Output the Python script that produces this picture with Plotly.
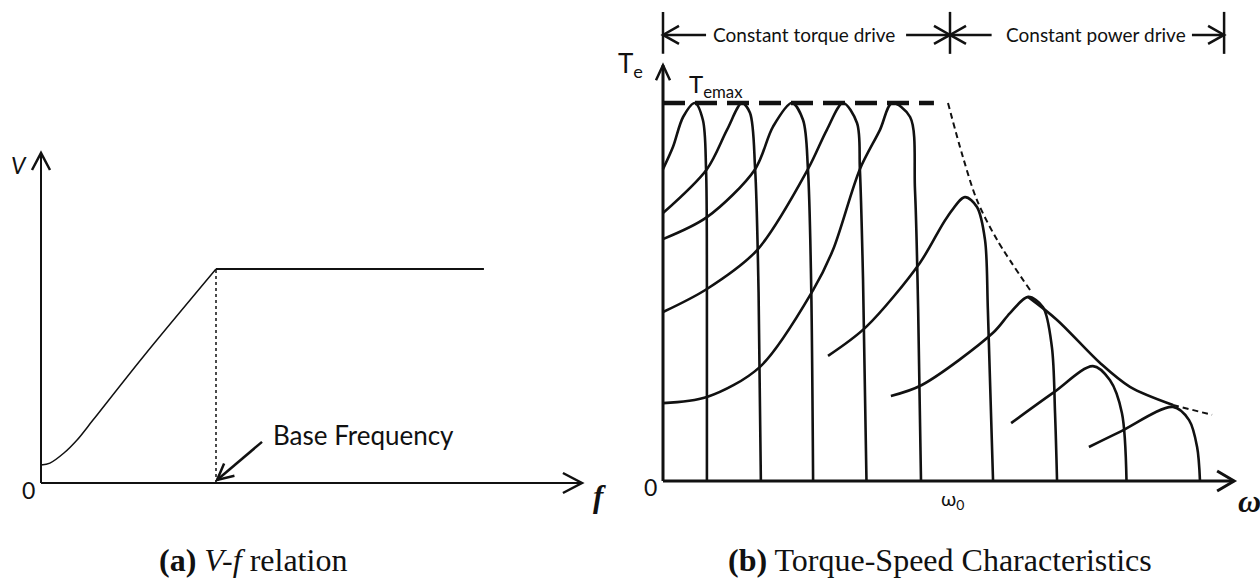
import math
import plotly.graph_objects as go

# ---------------- Panel (a): V-f relation (per-unit f and V) ----------------
vf_ramp_f = [0.0, 0.051, 0.131, 0.206, 0.297, 0.583, 1.0]
vf_ramp_v = [0.084, 0.093, 0.140, 0.201, 0.294, 0.589, 1.0]
vf_flat_f = [1.0, 2.531]
vf_flat_v = [1.0, 1.0]
base_freq = 1.0

# ---------------- Panel (b): torque-speed curves (w per-unit of w0, T per-unit of Temax) ----
c1_w = [0.0, 0.035, 0.070, 0.111, 0.139, 0.150, 0.153, 0.153]
c1_t = [0.825, 0.884, 0.963, 1.0, 0.955, 0.825, 0.5, 0.0]
c2_w = [0.0, 0.153, 0.223, 0.275, 0.303, 0.321, 0.333, 0.341]
c2_t = [0.709, 0.825, 0.929, 1.0, 0.974, 0.825, 0.5, 0.0]
c3_w = [0.0, 0.153, 0.321, 0.383, 0.449, 0.488, 0.505, 0.516, 0.523]
c3_t = [0.640, 0.698, 0.825, 0.937, 1.0, 0.955, 0.825, 0.532, 0.0]
c4_w = [0.0, 0.153, 0.328, 0.505, 0.571, 0.627, 0.676, 0.686, 0.697, 0.709]
c4_t = [0.447, 0.508, 0.611, 0.825, 0.929, 1.0, 0.947, 0.825, 0.532, 0.0]
c5_w = [0.0, 0.153, 0.338, 0.523, 0.592, 0.686, 0.756, 0.798, 0.861, 0.878, 0.889, 0.899]
c5_t = [0.206, 0.222, 0.302, 0.505, 0.611, 0.825, 0.929, 1.0, 0.963, 0.770, 0.455, 0.0]
c6_w = [0.575, 0.707, 0.895, 0.990, 1.052, 1.094, 1.122, 1.132, 1.150]
c6_t = [0.331, 0.407, 0.577, 0.698, 0.751, 0.725, 0.638, 0.452, 0.0]
c7_w = [0.794, 0.902, 1.150, 1.209, 1.272, 1.324, 1.355, 1.366, 1.373]
c7_t = [0.225, 0.254, 0.392, 0.444, 0.487, 0.460, 0.354, 0.180, 0.0]
c8_w = [1.213, 1.359, 1.498, 1.557, 1.599, 1.615]
c8_t = [0.153, 0.233, 0.304, 0.267, 0.180, 0.0]
c9_w = [1.484, 1.592, 1.777, 1.833, 1.861, 1.871]
c9_t = [0.090, 0.130, 0.196, 0.161, 0.090, 0.0]

temax_w = [0.0, 0.944]
temax_t = [1.0, 1.0]
env_dash_w = [0.993, 1.045, 1.094, 1.164, 1.279]
env_dash_t = [1.0, 0.857, 0.743, 0.638, 0.505]
env_solid_w = [1.272, 1.373, 1.523, 1.627, 1.777]
env_solid_t = [0.487, 0.426, 0.312, 0.249, 0.201]
env_tail_w = [1.777, 1.913]
env_tail_t = [0.201, 0.175]

region_bounds = [0.0, 1.0, 1.955]
region_labels = ["Constant torque drive", "Constant power drive"]
region_label_w = [0.491, 1.509]

INK = "#111111"
SANS = "Lato, 'Open Sans', sans-serif"
SERIF = "'Liberation Serif', 'Times New Roman', serif"

# pixel per data unit (used only for sizing arrowheads)
PXU = {"a": (175.0, 214.0), "b": (287.0, 378.0)}
REF = {"a": ("x", "y"), "b": ("x2", "y2")}

fig = go.Figure()


def add_line(panel, xs, ys, width=2.5, dash="solid", spline=False):
    xa, ya = ("x", "y") if panel == "a" else ("x2", "y2")
    fig.add_trace(go.Scatter(
        x=xs, y=ys, mode="lines", xaxis=xa, yaxis=ya,
        line=dict(color=INK, width=width, dash=dash,
                  shape="spline" if spline else "linear", smoothing=0.9),
        hoverinfo="skip", showlegend=False))


def chevron(panel, x, y, dx, dy, length=14, half=8, width=2.5):
    sx, sy = PXU[panel]
    n = math.hypot(dx, dy)
    ux, uy = dx / n, dy / n
    bx, by = -ux * length, -uy * length
    px, py = -uy * half, ux * half
    p1 = (x + (bx + px) / sx, y + (by + py) / sy)
    p2 = (x + (bx - px) / sx, y + (by - py) / sy)
    xr, yr = REF[panel]
    fig.add_shape(type="path", xref=xr, yref=yr,
                  path=f"M {p1[0]},{p1[1]} L {x},{y} L {p2[0]},{p2[1]}",
                  line=dict(color=INK, width=width))


def seg(panel, x0, y0, x1, y1, width=2.5, dash="solid"):
    xr, yr = REF[panel]
    fig.add_shape(type="line", xref=xr, yref=yr, x0=x0, y0=y0, x1=x1, y1=y1,
                  line=dict(color=INK, width=width, dash=dash))


# ---------- Panel (a) ----------
seg("a", 0, 0, 0, 1.542, width=2)
chevron("a", 0, 1.542, 0, 1, length=17, half=9, width=2.5)
seg("a", 0, 0, 3.091, 0, width=2)
chevron("a", 3.091, 0, 1, 0, length=19, half=10, width=2.5)
add_line("a", vf_ramp_f, vf_ramp_v, width=1.5, spline=True)
add_line("a", vf_flat_f, vf_flat_v, width=2)
seg("a", base_freq, 0, base_freq, 1.0, width=1.5, dash="dot")
seg("a", 1.263, 0.192, 1.006, 0.014, width=2.5)
chevron("a", 1.006, 0.014, -45, -38, length=16, half=8, width=2.5)

# ---------- Panel (b) ----------
seg("b", 0, 0, 0, 1.100, width=3)
chevron("b", 0, 1.100, 0, 1, length=15, half=7, width=2.5)
seg("b", 0, 0, 1.990, 0, width=3)
chevron("b", 1.990, 0, 1, 0, length=17, half=10, width=3)

add_line("b", temax_w, temax_t, width=4.5, dash="22px,10px")
add_line("b", env_dash_w, env_dash_t, width=2, dash="6px,4px", spline=True)
add_line("b", env_tail_w, env_tail_t, width=2, dash="6px,4px")
for cw, ct in [(c1_w, c1_t), (c2_w, c2_t), (c3_w, c3_t), (c4_w, c4_t), (c5_w, c5_t),
               (c6_w, c6_t), (c7_w, c7_t), (c8_w, c8_t), (c9_w, c9_t)]:
    add_line("b", cw, ct, width=2.6, spline=True)
add_line("b", env_solid_w, env_solid_t, width=2.6, spline=True)

# region markers on top
ARW_T = 1.180
for b in region_bounds:
    seg("b", b, 1.130, b, 1.241, width=2.5)
seg("b", region_bounds[0], ARW_T, 0.150, ARW_T)
chevron("b", region_bounds[0], ARW_T, -1, 0, length=16, half=9)
seg("b", 0.847, ARW_T, region_bounds[1], ARW_T)
chevron("b", region_bounds[1], ARW_T, 1, 0, length=16, half=9)
seg("b", region_bounds[1], ARW_T, 1.145, ARW_T)
chevron("b", region_bounds[1], ARW_T, -1, 0, length=16, half=9)
seg("b", 1.843, ARW_T, region_bounds[2], ARW_T)
chevron("b", region_bounds[2], ARW_T, 1, 0, length=16, half=9)

ann = []


def txt(panel, x, y, text, size, family=SANS, xanchor="center", yanchor="middle"):
    xr, yr = REF[panel] if panel else ("paper", "paper")
    ann.append(dict(x=x, y=y, xref=xr, yref=yr, text=text, showarrow=False,
                    xanchor=xanchor, yanchor=yanchor,
                    font=dict(family=family, size=size, color=INK)))


txt("a", -0.126, 1.486, "<i>V</i>", 23)
txt("a", -0.069, -0.033, "0", 23)
txt("a", 1.314, 0.225, "Base Frequency", 26, xanchor="left")
txt("a", 3.194, -0.065, "<b><i>f</i></b>", 31, family=SERIF)

for lab, w in zip(region_labels, region_label_w):
    txt("b", w, ARW_T, lab, 19)
txt("b", -0.112, 1.103, "T<sub>e</sub>", 26)
txt("b", 0.084, 1.045, "T<sub>emax</sub>", 24, xanchor="left")
txt("b", -0.042, -0.016, "0", 23)
txt("b", 1.010, -0.050, "\u03c9<sub>0</sub>", 20)
txt("b", 2.042, -0.052, "<b><i>\u03c9</i></b>", 32, family=SERIF)

txt(None, 253 / 1260, 1 - 560 / 580, "<b>(a)</b> <i>V-f</i> relation", 32, family=SERIF)
txt(None, 940 / 1260, 1 - 560 / 580, "<b>(b)</b> Torque-Speed Characteristics", 32, family=SERIF)

fig.update_layout(
    width=1260, height=580,
    margin=dict(l=0, r=0, t=0, b=0),
    paper_bgcolor="white", plot_bgcolor="white",
    showlegend=False,
    annotations=ann,
    xaxis=dict(domain=[0, 0.5], range=[-41 / 175, (630 - 41) / 175], visible=False, fixedrange=True),
    yaxis=dict(domain=[0, 1], range=[(483 - 580) / 214, 483 / 214], visible=False, fixedrange=True),
    xaxis2=dict(domain=[0.47, 1.0], range=[(592.2 - 663) / 287, (1260 - 663) / 287], visible=False,
                fixedrange=True, anchor="y2"),
    yaxis2=dict(domain=[0, 1], range=[(481 - 580) / 378, 481 / 378], visible=False, fixedrange=True,
                anchor="x2"),
)

fig.write_html("out.html")
